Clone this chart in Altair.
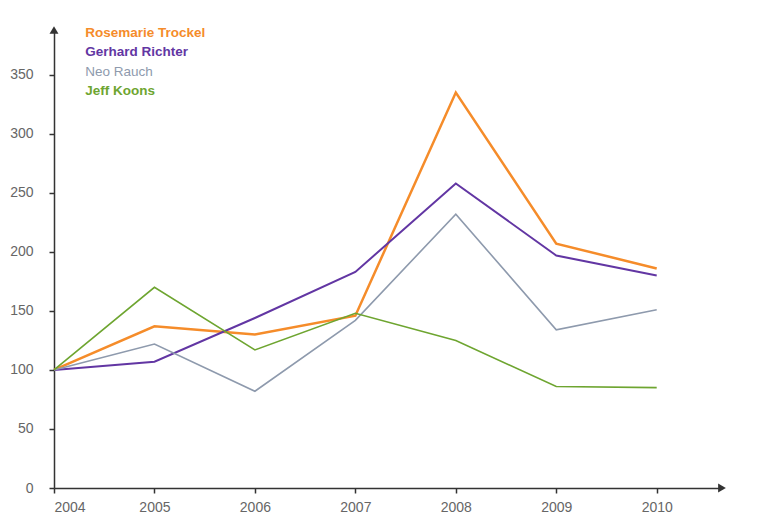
import altair as alt
import pandas as pd

years = [2004, 2005, 2006, 2007, 2008, 2009, 2010]
series_names = ["Rosemarie Trockel", "Gerhard Richter", "Neo Rauch", "Jeff Koons"]
trockel = [100, 137, 130, 146, 335, 207, 186]
richter = [100, 107, 144, 183, 258, 197, 180]
rauch = [100, 122, 82, 142, 232, 134, 151]
koons = [100, 170, 117, 148, 125, 86, 85]
colors = ["#F58C2A", "#6236A3", "#8E9AAD", "#6EA530"]
text_colors = ["#F7962E", "#6236A3", "#808080", "#6EA530"]
widths = [2.5, 2.0, 1.6, 1.6]
y_ticks = [0, 50, 100, 150, 200, 250, 300, 350]

rows = []
for name, vals, w in zip(series_names, [trockel, richter, rauch, koons], widths):
    for yr, v in zip(years, vals):
        rows.append({"year": yr, "value": v, "artist": name, "w": w})
df = pd.DataFrame(rows)

X_MAX = 2010.65
Y_MAX = 388

xs = alt.Scale(domain=[2004, X_MAX], nice=False, zero=False)
ys = alt.Scale(domain=[0, Y_MAX], nice=False)

color_scale = alt.Scale(domain=series_names, range=colors)
text_scale = alt.Scale(domain=series_names, range=text_colors)

lines = alt.Chart(df).mark_line(strokeJoin="miter").encode(
    x=alt.X("year:Q", scale=xs, title=None,
            axis=alt.Axis(values=years, format="d", grid=False, domainColor="#333",
                          domainWidth=1.5, tickColor="#333", tickWidth=1.5, tickSize=5,
                          labelColor="#666", labelFontSize=14, labelPadding=7,
                          labelFont="Liberation Sans")),
    y=alt.Y("value:Q", scale=ys, title=None,
            axis=alt.Axis(values=y_ticks, grid=False, domainColor="#333",
                          domainWidth=1.5, tickColor="#333", tickWidth=1.5, tickSize=5,
                          labelColor="#666", labelFontSize=14, labelPadding=16,
                          labelFont="Liberation Sans")),
    color=alt.Color("artist:N", scale=color_scale, legend=None),
    strokeWidth=alt.StrokeWidth("w:Q", scale=None),
    detail="artist:N",
)

# axis arrow heads
arrows = pd.DataFrame({
    "x": [2004, X_MAX],
    "y": [Y_MAX, 0],
    "shape": ["triangle-up", "triangle-right"],
})
arrow_marks = alt.Chart(arrows).mark_point(filled=True, color="#333", size=80, opacity=1).encode(
    x=alt.X("x:Q", scale=xs),
    y=alt.Y("y:Q", scale=ys),
    shape=alt.Shape("shape:N", scale=None),
)

# legend as colored text
leg = pd.DataFrame({
    "name": series_names,
    "lx": [2004.31] * 4,
    "ly": [385.5, 369.5, 352.5, 336.5],
    "bold": [True, True, False, True],
})
legend_bold = alt.Chart(leg).transform_filter("datum.bold").mark_text(
    align="left", baseline="middle", fontSize=13.5, font="Liberation Sans", fontWeight="bold"
).encode(
    x=alt.X("lx:Q", scale=xs),
    y=alt.Y("ly:Q", scale=ys),
    text="name:N",
    color=alt.Color("name:N", scale=text_scale, legend=None),
)
legend_norm = alt.Chart(leg).transform_filter("!datum.bold").mark_text(
    align="left", baseline="middle", fontSize=13.5, font="Liberation Sans"
).encode(
    x=alt.X("lx:Q", scale=xs),
    y=alt.Y("ly:Q", scale=ys),
    text="name:N",
    color=alt.Color("name:N", scale=text_scale, legend=None),
)

chart = alt.layer(lines, arrow_marks, legend_bold, legend_norm).properties(
    width=668, height=458,
    autosize=alt.AutoSizeParams(type="none"),
    padding={"left": 46, "top": 22, "right": 40, "bottom": 30},
    background="white",
).configure_view(stroke=None)

chart.save("out.html", embed_options={"renderer": "svg", "actions": False})
